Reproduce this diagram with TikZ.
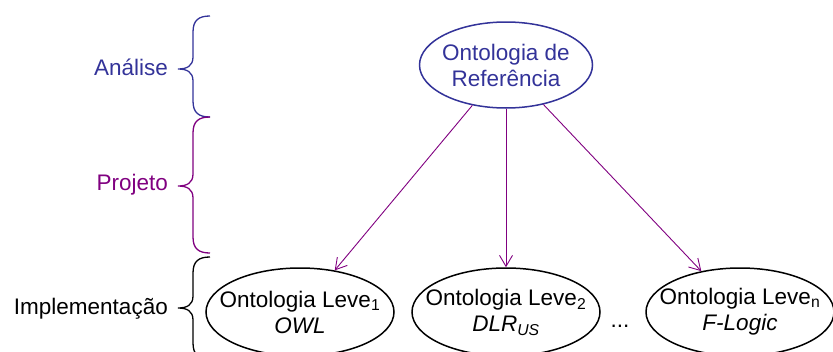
\documentclass[tikz,border=0pt]{standalone}
\usepackage{fontspec}
\setmainfont{Liberation Sans}
\usetikzlibrary{arrows.meta,shapes.geometric}
\definecolor{faseazul}{HTML}{333399}
\definecolor{faseroxo}{HTML}{800080}
% curly brace: colour, top, tip, bottom
\newcommand{\chave}[4]{
  \draw[#1, line width=1.3pt] (210,#2) .. controls (199,#2) and (193,#2+4) .. (193,#2+16)
    -- (193,#3-12) .. controls (193,#3-3) and (187,#3) .. (178,#3)
    .. controls (187,#3) and (193,#3+3) .. (193,#3+12)
    -- (193,#4-16) .. controls (193,#4-4) and (199,#4) .. (210,#4);
}

\begin{document}
\begin{tikzpicture}[x=1pt, y=-1pt,
  fonte/.style={font=\fontsize{22.5}{26}\selectfont},
  onto/.style={ellipse, draw, line width=1.5pt, minimum width=188pt, minimum height=88pt, inner sep=0pt},
  rotulo/.style={fonte, align=center, inner sep=0pt},
  fase/.style={fonte, anchor=base east, inner sep=0pt},
  seta/.style={faseroxo, line width=0.9pt, -{Straight Barb[length=11pt,width=13pt]}}]

  \clip (0,0) rectangle (833,351);

  % ============ phases ============
  \node[fase, text=faseazul] (analise) at (168,75) {Análise};
  \node[fase, text=faseroxo] (projeto) at (168,190) {Projeto};
  \node[fase] (implementacao) at (168,314) {Implementação};

  \chave{faseazul}{16}{69}{117}
  \chave{faseroxo}{117}{186}{253}
  \chave{black}{257}{308}{359}

  % ============ ontologies ============
  \node[onto, draw=faseazul, minimum width=173pt, minimum height=86pt] (ref) at (506,65) {};
  \node[rotulo, text=faseazul] (ref-txt) at (ref) {Ontologia de\\Referência};

  \node[onto] (leve1) at (300,312) {};
  \node[rotulo] (leve1-txt) at (leve1) {Ontologia Leve\textsubscript{1}\\\textit{OWL}};

  \node[onto] (leve2) at (506,312) {};
  \node[rotulo] (leve2-txt) at (leve2) {Ontologia Leve\textsubscript{2}\\\textit{DLR\textsubscript{US}}};

  \node[onto] (leven) at (740,312) {};
  \node[rotulo] (leven-txt) at (leven) {Ontologia Leve\textsubscript{n}\\\textit{F-Logic}};

  \node[fonte, anchor=base, inner sep=0pt] (reticencias) at (620,327) {...};

  % ============ derivation ============
  \draw[seta] (ref) -- (leve1);
  \draw[seta] (ref) -- (leve2);
  \draw[seta] (ref) -- (leven);

\end{tikzpicture}
\end{document}
